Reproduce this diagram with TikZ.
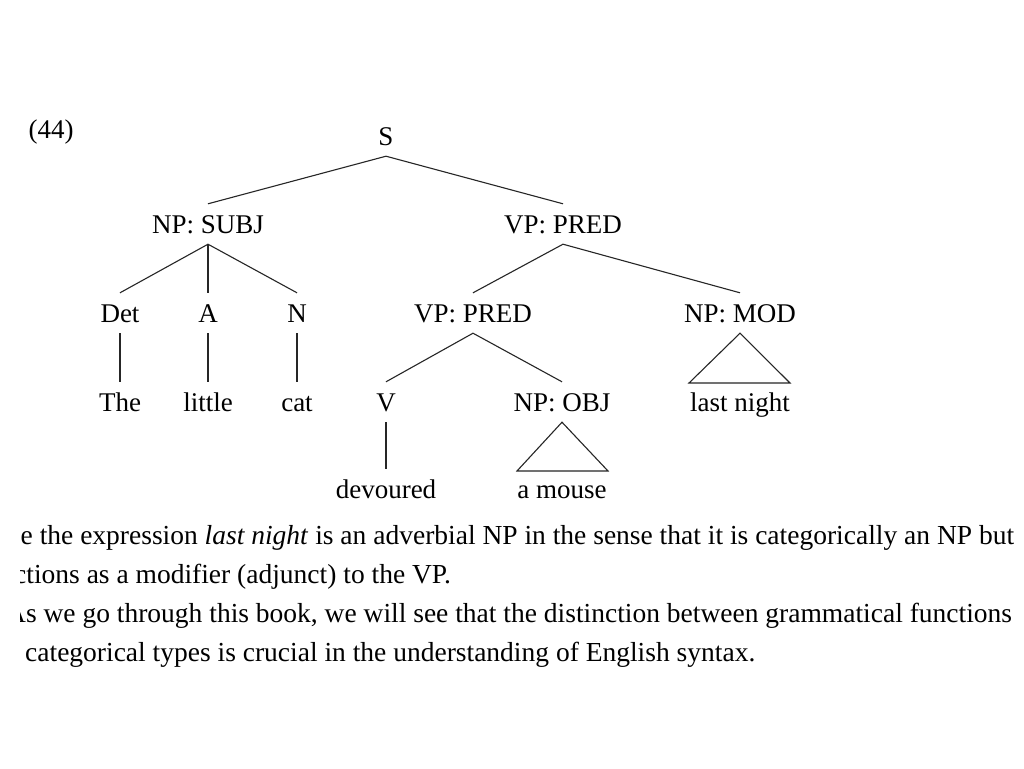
\documentclass[tikz,border=0pt]{standalone}
\usepackage{fontspec}
\setmainfont{Liberation Serif}
\begin{document}
\begin{tikzpicture}[x=1pt,y=-1pt,
  lab/.style={font=\fontsize{27}{32}\selectfont, text height=18pt, text depth=0pt,
    inner xsep=0pt, inner ysep=11pt, anchor=base},
  branch/.style={line width=1.1pt, draw=black!85},
  body/.style={font=\fontsize{27.5}{38}\selectfont, inner sep=0pt, anchor=base west}]
\useasboundingbox (0,0) rectangle (1024,768);
\fill[white] (0,0) rectangle (1024,768);
% example number
\node[lab] (num) at (51,138) {(44)};
% tree labels
\node[lab] (s) at (386,145) {S};
\node[lab] (subj) at (208,233) {NP: SUBJ};
\node[lab] (vp1) at (563,233) {VP: PRED};
\node[lab] (det) at (120,322) {Det};
\node[lab] (adj) at (208,322) {A};
\node[lab] (n) at (297,322) {N};
\node[lab] (vp2) at (473,322) {VP: PRED};
\node[lab] (mod) at (740,322) {NP: MOD};
\node[lab] (the) at (120,411) {The};
\node[lab] (little) at (208,411) {little};
\node[lab] (cat) at (297,411) {cat};
\node[lab] (v) at (386,411) {V};
\node[lab] (obj) at (562,411) {NP: OBJ};
\node[lab] (lastnight) at (740,411) {last night};
\node[lab] (devoured) at (386,498) {devoured};
\node[lab] (mouse) at (562,498) {a mouse};
% branches
\draw[branch] (s.south) -- (subj.north);
\draw[branch] (s.south) -- (vp1.north);
\draw[branch] (subj.south) -- (det.north);
\draw[branch] (subj.south) -- (adj.north);
\draw[branch] (subj.south) -- (n.north);
\draw[branch] (vp1.south) -- (vp2.north);
\draw[branch] (vp1.south) -- (mod.north);
\draw[branch] (det.south) -- (the.north);
\draw[branch] (adj.south) -- (little.north);
\draw[branch] (n.south) -- (cat.north);
\draw[branch] (vp2.south) -- (v.north);
\draw[branch] (vp2.south) -- (obj.north);
\draw[branch] (v.south) -- (devoured.north);
% triangles
\coordinate (objL) at (517,471);
\coordinate (objR) at (608,471);
\coordinate (modL) at (689,383);
\coordinate (modR) at (790,383);
\draw[branch, line join=miter] (obj.south) -- (objR) -- (objL) -- cycle;
\draw[branch, line join=miter] (mod.south) -- (modR) -- (modL) -- cycle;
% body text (cropped at the left)
\begin{scope}
\clip (20,500) rectangle (1024,700);
\node[body] (l1) at (20.5,544) {e the expression \textit{last night} is an adverbial NP in the sense that it is categorically an NP but};
\node[body] (l2) at (14,583) {ctions as a modifier (adjunct) to the VP.};
\node[body] (l3) at (6,622) {As we go through this book, we will see that the distinction between grammatical functions};
\node[body] (l4) at (25,661) {categorical types is crucial in the understanding of English syntax.};
\end{scope}
\end{tikzpicture}
\end{document}
